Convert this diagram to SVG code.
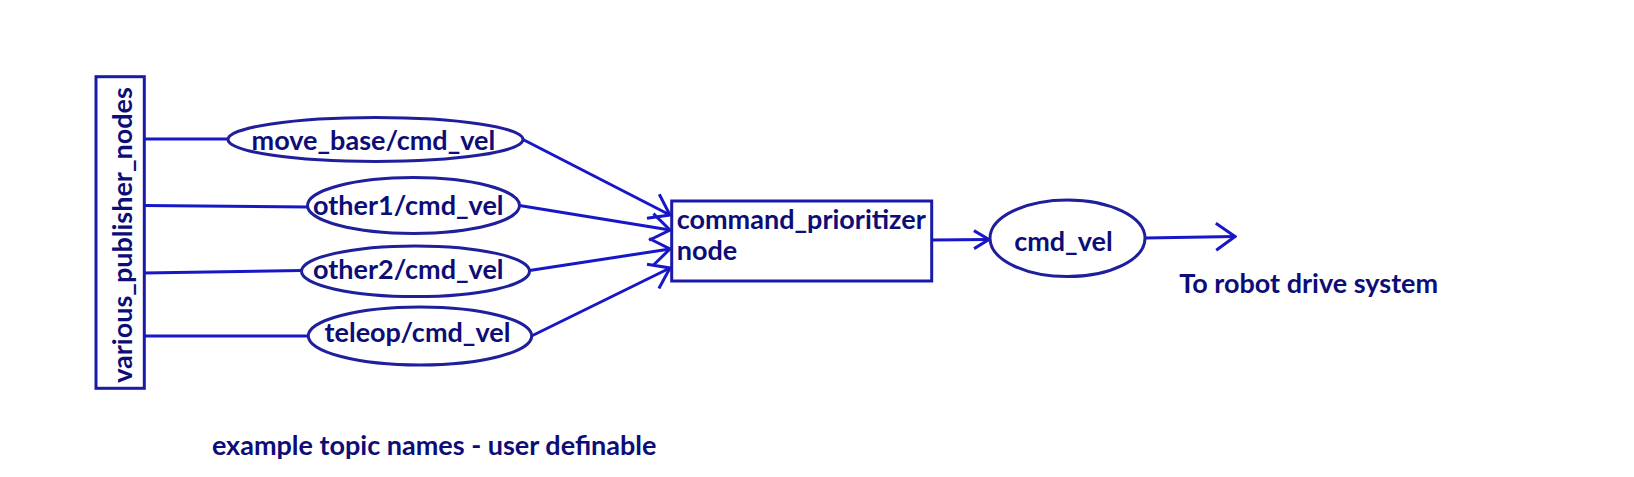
<svg xmlns="http://www.w3.org/2000/svg" width="1634" height="477" viewBox="0 0 1634 477">
<defs>
<style>
.bg{fill:#ffffff}
.box{fill:none;stroke:#1a1aa8;stroke-width:3}
.ell{fill:none;stroke:#1f1f9c;stroke-width:3}
.ln{fill:none;stroke:#1717c8;stroke-width:3}
.t{font-family:Lato,"Liberation Sans",sans-serif;font-weight:bold;font-size:27px;fill:#0d0d78}
.m{text-anchor:middle}
</style>
<marker id="arr" markerUnits="userSpaceOnUse" viewBox="0 0 22 30" refX="20" refY="15" markerWidth="22" markerHeight="30" orient="auto">
<path d="M1,1.5 L20,15 L1,28.5" fill="none" stroke="#1717c8" stroke-width="3"/>
</marker>
<marker id="arrs" markerUnits="userSpaceOnUse" viewBox="0 0 18 22" refX="16" refY="11" markerWidth="18" markerHeight="22" orient="auto">
<path d="M1,2 L16,11 L1,20" fill="none" stroke="#1717c8" stroke-width="3"/>
</marker>
</defs>
<rect class="bg" x="0" y="0" width="1634" height="477"/>
<g id="connectors">
<line class="ln" x1="144" y1="139" x2="228" y2="139"/>
<line class="ln" x1="144" y1="205.5" x2="308" y2="207"/>
<line class="ln" x1="144" y1="273" x2="302" y2="270.5"/>
<line class="ln" x1="144" y1="336" x2="308.5" y2="336"/>
<line class="ln" x1="523" y1="139.5" x2="670" y2="215" marker-end="url(#arr)"/>
<line class="ln" x1="519.5" y1="205.5" x2="670" y2="230" marker-end="url(#arr)"/>
<line class="ln" x1="529.5" y1="270.5" x2="670" y2="249" marker-end="url(#arr)"/>
<line class="ln" x1="531.5" y1="336" x2="670" y2="268" marker-end="url(#arr)"/>
<line class="ln" x1="932" y1="240" x2="989" y2="239.5" marker-end="url(#arrs)"/>
<line class="ln" x1="1145" y1="238" x2="1235" y2="236.5" marker-end="url(#arr)"/>
</g>
<g id="various_publisher_nodes">
<rect class="box" x="96" y="76.7" width="48.3" height="311.6"/>
<text class="t m" transform="translate(132,235) rotate(-90)">various_publisher_nodes</text>
</g>
<g id="move_base_cmd_vel">
<ellipse class="ell" cx="375.5" cy="139.5" rx="147.5" ry="22"/>
<text class="t m" x="373.4" y="149.8">move_base/cmd_vel</text>
</g>
<g id="other1_cmd_vel">
<ellipse class="ell" cx="413.5" cy="205.5" rx="106" ry="28"/>
<text class="t m" x="408.3" y="214.5">other1/cmd_vel</text>
</g>
<g id="other2_cmd_vel">
<ellipse class="ell" cx="415.5" cy="271.3" rx="114" ry="25.3"/>
<text class="t m" x="408.3" y="279">other2/cmd_vel</text>
</g>
<g id="teleop_cmd_vel">
<ellipse class="ell" cx="420" cy="336" rx="111.7" ry="29"/>
<text class="t m" x="417.5" y="342.2">teleop/cmd_vel</text>
</g>
<g id="command_prioritizer">
<rect class="box" x="671.7" y="201" width="260" height="80"/>
<text class="t" x="676.7" y="228.8">command_prioritizer</text>
<text class="t" x="676.7" y="259.8">node</text>
</g>
<g id="cmd_vel">
<ellipse class="ell" cx="1067.5" cy="238.3" rx="77.5" ry="38.3"/>
<text class="t m" x="1063.4" y="250.5">cmd_vel</text>
</g>
<g id="labels">
<text class="t m" x="1308.7" y="293">To robot drive system</text>
<text class="t m" x="434.2" y="454.5">example topic names - user definable</text>
</g>
</svg>
